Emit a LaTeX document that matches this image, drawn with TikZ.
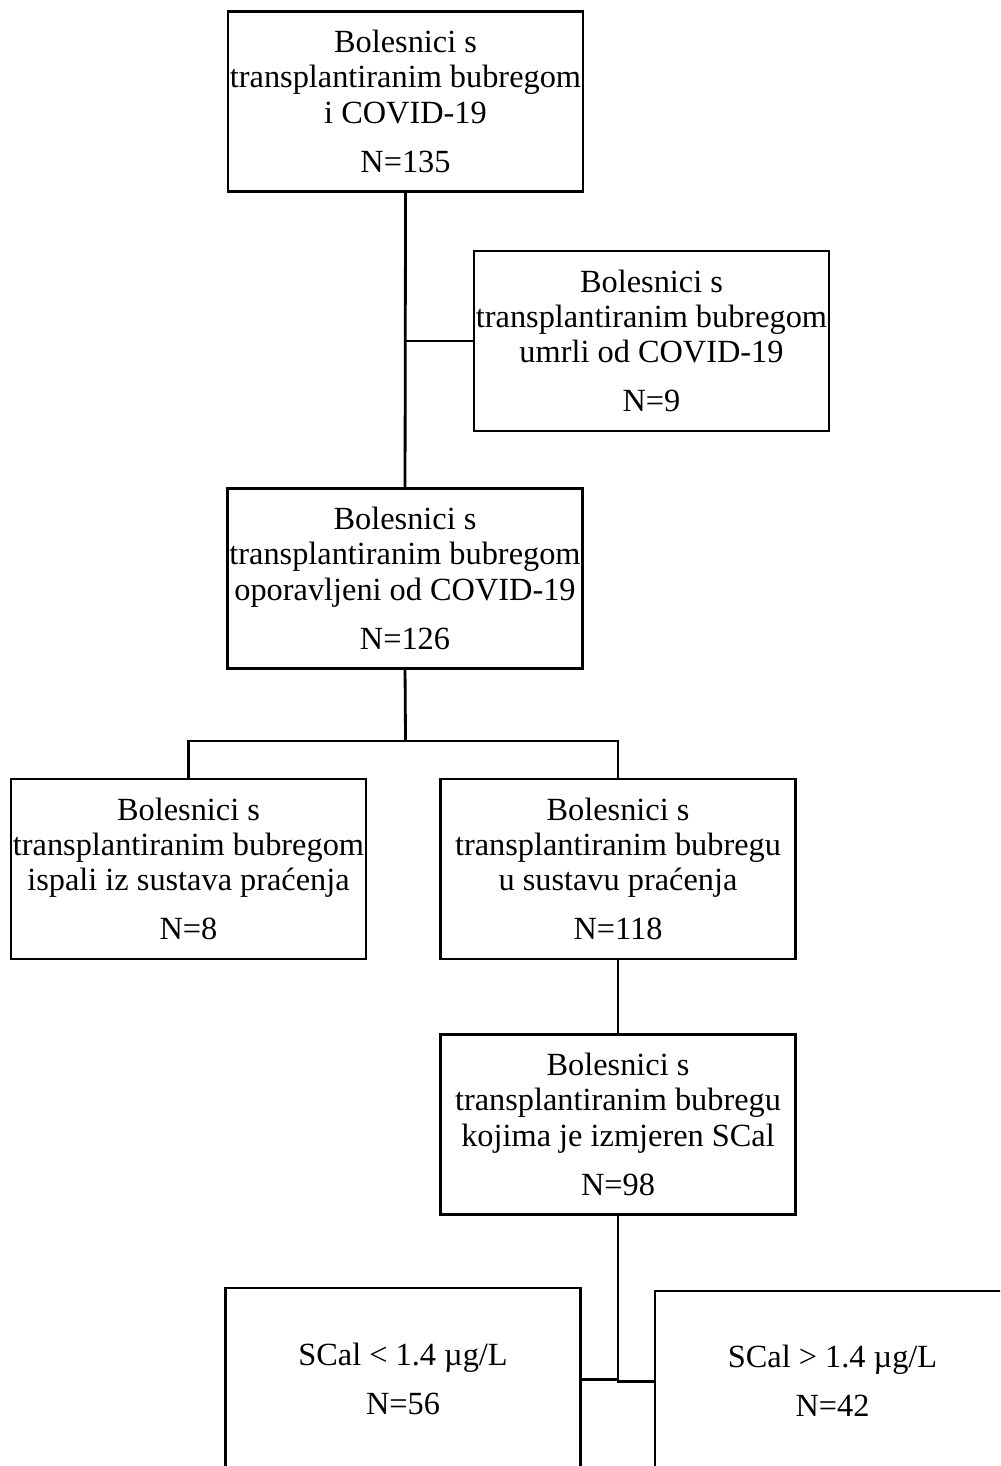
\documentclass[tikz,border=0pt]{standalone}
\usepackage{fontspec}
\setmainfont{Liberation Serif}
\usepackage{tikz}

\begin{document}
\begin{tikzpicture}[scale=0.1]
\tikzstyle{every node}+=[inner sep=0pt]
\tikzstyle{box}=[draw=black, line width=0.8pt, align=center, minimum width=3.55cm, minimum height=1.8cm, font=\fontsize{9.2}{10}\selectfont]
\useasboundingbox (0,0) rectangle (100,-146.6);
\clip (0,0) rectangle (100,-146.6);
\node [box] (top) at (40.55,-10.15) {Bolesnici s\\transplantiranim bubregom\\i COVID-19\\[4pt]N=135};
\node [box] (dead) at (65.15,-34.1) {Bolesnici s\\transplantiranim bubregom\\umrli od COVID-19\\[4pt]N=9};
\node [box] (recov) at (40.5,-57.85) {Bolesnici s\\transplantiranim bubregom\\oporavljeni od COVID-19\\[4pt]N=126};
\node [box] (lost) at (18.85,-86.9) {Bolesnici s\\transplantiranim bubregom\\ispali iz sustava praćenja\\[4pt]N=8};
\node [box] (follow) at (61.8,-86.9) {Bolesnici s\\transplantiranim bubregu\\u sustavu praćenja\\[4pt]N=118};
\node [box] (scal) at (61.8,-112.45) {Bolesnici s\\transplantiranim bubregu\\kojima je izmjeren SCal\\[4pt]N=98};
\node [box, minimum height=1.82cm] (low) at (40.3,-137.9) {SCal < 1.4 µg/L\\[4pt]N=56};
\node [box] (high) at (83.25,-138.1) {SCal > 1.4 µg/L\\[4pt]N=42};
\coordinate (fork) at (40.55,-74.1);
\draw [line width=0.8pt] (top.south) -- (recov.north);
\draw [line width=0.8pt] (dead.west) -- (dead.west -| top.south);
\draw [line width=0.8pt] (recov.south) -- (fork);
\draw [line width=0.8pt] (lost.north) |- (fork) -| (follow.north);
\draw [line width=0.8pt] (follow.south) -- (scal.north);
\draw [line width=0.8pt] (scal.south) |- (high.west);
\draw [line width=0.8pt] (low.east) -- (low.east -| scal.south);
\end{tikzpicture}
\end{document}
